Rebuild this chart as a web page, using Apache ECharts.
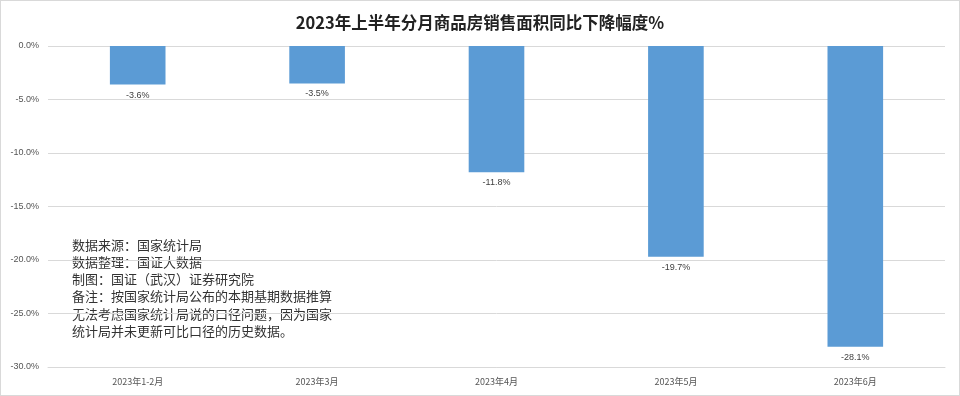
<!DOCTYPE html>
<html><head><meta charset="utf-8">
<script src="https://cdn.jsdelivr.net/npm/echarts@6/dist/echarts.min.js"></script>
<style>html,body{margin:0;padding:0;background:#fff}#c{width:960px;height:396px;box-sizing:border-box;border:1px solid #d9d9d9}</style>
</head><body><div id="c"></div>
<script>
const categories = ['2023年1-2月','2023年3月','2023年4月','2023年5月','2023年6月'];
const values = [-3.6, -3.5, -11.8, -19.7, -28.1];
const yTicks = [0, -5, -10, -15, -20, -25, -30];
const titleText = '2023年上半年分月商品房销售面积同比下降幅度%';
const noteLines = ['数据来源：国家统计局','数据整理：国证大数据','制图：国证（武汉）证券研究院','备注：按国家统计局公布的本期基期数据推算','无法考虑国家统计局说的口径问题，因为国家','统计局并未更新可比口径的历史数据。'];

const chart = echarts.init(document.getElementById('c'));
chart.setOption({
  animation: false,
  title: { text: titleText, left: 'center', top: 8, textStyle: { fontFamily: 'Noto Sans CJK SC', fontWeight: 'bold', fontSize: 16.5, color: '#222' } },
  grid: { left: 47, right: 14, top: 45, bottom: 28 },
  xAxis: { type: 'category', data: categories, position: 'bottom',
    axisLine: { onZero: false, lineStyle: { color: '#d9d9d9' } }, axisTick: { show: false },
    axisLabel: { color: '#555', fontSize: 9, margin: 10, fontFamily: 'Noto Sans CJK SC' } },
  yAxis: { type: 'value', min: -30, max: 0, interval: 5,
    axisLabel: { formatter: v => v.toFixed(1) + '%', color: '#555', fontSize: 9, margin: 9 },
    splitLine: { lineStyle: { color: '#d9d9d9' } }, axisLine: { show: false }, axisTick: { show: false } },
  graphic: [{ type: 'text', left: 71, top: 235, style: { text: noteLines.join('\n'), fontSize: 13, lineHeight: 17.3, fill: '#333', fontFamily: 'Noto Sans CJK SC' } }],
  series: [{ type: 'bar', data: values, barWidth: '31%', itemStyle: { color: '#5B9BD5' },
    label: { show: true, position: 'bottom', distance: 6, formatter: p => p.value.toFixed(1) + '%', fontSize: 9, color: '#404040' } }]
});
</script></body></html>
